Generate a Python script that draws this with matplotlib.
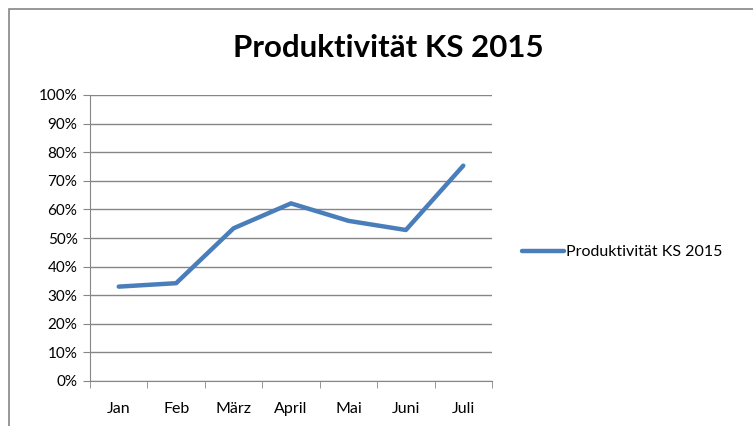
import matplotlib.pyplot as plt
import numpy as np
from matplotlib.ticker import FixedLocator, PercentFormatter
from matplotlib.patches import Rectangle

months = ["Jan", "Feb", "März", "April", "Mai", "Juni", "Juli"]
values = [33.0, 34.2, 53.4, 62.1, 56.0, 52.8, 75.3]
series_name = "Produktivität KS 2015"
title = "Produktivität KS 2015"

plt.rcParams['font.family'] = ['Lato', 'DejaVu Sans']

fig = plt.figure(figsize=(7.53, 4.26), dpi=100)
ax = fig.add_axes([90 / 753, 45 / 426, 402 / 753, 286 / 426])

# chart-area frame (only top/left visible in the crop)
fig.patches.append(Rectangle((9 / 753, -0.1), 1.2, (426 - 9) / 426 + 0.1,
                             transform=fig.transFigure, fill=False,
                             edgecolor="#868686", linewidth=1.2))

x = np.arange(len(months))
ax.plot(x, values, color="#4A7EBB", linewidth=3.2, solid_capstyle="round",
        label=series_name)

ax.set_xlim(-0.5, len(months) - 0.5)
ax.set_ylim(0, 100)
ax.yaxis.set_major_locator(FixedLocator(np.arange(0, 101, 10)))
ax.yaxis.set_major_formatter(PercentFormatter(decimals=0))
ax.grid(axis="y", color="#868686", linewidth=1)
ax.set_axisbelow(True)

ax.set_xticks(x)
ax.set_xticklabels(months)
ax.xaxis.set_minor_locator(FixedLocator(np.arange(-0.5, len(months), 1)))
ax.tick_params(axis="x", which="major", length=0, pad=15, labelsize=11.5)
ax.tick_params(axis="x", which="minor", length=5, color="#868686")
ax.tick_params(axis="y", length=5, color="#868686", labelsize=11, pad=4)

for s in ["top", "right"]:
    ax.spines[s].set_visible(False)
for s in ["left", "bottom"]:
    ax.spines[s].set_color("#868686")

fig.text(388 / 753, 1 - 48 / 426, title, ha="center", va="center",
         fontsize=22.5, fontweight="bold")

ax.legend(loc="center left", bbox_to_anchor=(1.04, 0.45), frameon=False,
          fontsize=11.5, handlelength=2.6, handletextpad=0.1)

fig.savefig("out.png", dpi=100)
